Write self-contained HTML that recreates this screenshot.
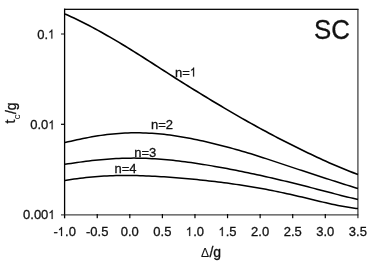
<!DOCTYPE html>
<html><head><meta charset="utf-8"><title>SC phase diagram</title><style>
html,body{margin:0;padding:0;background:#fff;}
svg{display:block;will-change:transform;opacity:0.999;}
text{font-family:"Liberation Sans",sans-serif;fill:#111;stroke:#111;stroke-width:0.3px;}
</style></head><body>
<svg width="374" height="265" viewBox="0 0 374 265">
<rect width="374" height="265" fill="#fff"/>
<!-- frame -->
<rect x="64" y="8.7" width="294.5" height="1.25" fill="#000"/>
<rect x="63.95" y="8.7" width="1.3" height="209.6" fill="#000"/>
<rect x="357.4" y="9" width="1.05" height="209.2" fill="#1a1a1a"/>
<rect x="61" y="214.4" width="297.4" height="1.0" fill="#1a1a1a"/>
<rect x="96.63" y="214" width="1.2" height="4.2" fill="#000"/><rect x="129.21" y="214" width="1.2" height="4.2" fill="#000"/><rect x="161.79" y="214" width="1.2" height="4.2" fill="#000"/><rect x="194.37" y="214" width="1.2" height="4.2" fill="#000"/><rect x="226.95" y="214" width="1.2" height="4.2" fill="#000"/><rect x="259.53" y="214" width="1.2" height="4.2" fill="#000"/><rect x="292.11" y="214" width="1.2" height="4.2" fill="#000"/><rect x="324.69" y="214" width="1.2" height="4.2" fill="#000"/><rect x="61" y="33.50" width="3.5" height="1" fill="#111"/><rect x="61" y="123.70" width="3.5" height="1.2" fill="#000"/>
<g font-size="13px"><text x="53.44" y="236.00">-</text><path transform="translate(57.78,236.00) scale(0.00635,-0.00635)" d="M673.0 0.0L514.6 0.0L514.6 1112.6Q457.4 1052.5 364.6 992.3Q271.7 932.2 197.8 902.1L197.8 1070.9Q330.7 1139.8 430.1 1237.7Q529.6 1335.7 570.9 1427.8L673.0 1427.8Z" fill="#111" stroke="#111" stroke-width="30"/><text x="65.02" y="236.00">.0</text><text x="86.02" y="236.00">-0.5</text><text x="120.77" y="236.00">0.0</text><text x="153.35" y="236.00">0.5</text><path transform="translate(185.93,236.00) scale(0.00635,-0.00635)" d="M673.0 0.0L514.6 0.0L514.6 1112.6Q457.4 1052.5 364.6 992.3Q271.7 932.2 197.8 902.1L197.8 1070.9Q330.7 1139.8 430.1 1237.7Q529.6 1335.7 570.9 1427.8L673.0 1427.8Z" fill="#111" stroke="#111" stroke-width="30"/><text x="193.16" y="236.00">.0</text><path transform="translate(218.51,236.00) scale(0.00635,-0.00635)" d="M673.0 0.0L514.6 0.0L514.6 1112.6Q457.4 1052.5 364.6 992.3Q271.7 932.2 197.8 902.1L197.8 1070.9Q330.7 1139.8 430.1 1237.7Q529.6 1335.7 570.9 1427.8L673.0 1427.8Z" fill="#111" stroke="#111" stroke-width="30"/><text x="225.74" y="236.00">.5</text><text x="251.09" y="236.00">2.0</text><text x="283.67" y="236.00">2.5</text><text x="316.25" y="236.00">3.0</text><text x="348.83" y="236.00">3.5</text><text x="37.22" y="38.60">0.</text><path transform="translate(48.07,38.60) scale(0.00635,-0.00635)" d="M673.0 0.0L514.6 0.0L514.6 1112.6Q457.4 1052.5 364.6 992.3Q271.7 932.2 197.8 902.1L197.8 1070.9Q330.7 1139.8 430.1 1237.7Q529.6 1335.7 570.9 1427.8L673.0 1427.8Z" fill="#111" stroke="#111" stroke-width="30"/><text x="30.29" y="129.30">0.0</text><path transform="translate(48.37,129.30) scale(0.00635,-0.00635)" d="M673.0 0.0L514.6 0.0L514.6 1112.6Q457.4 1052.5 364.6 992.3Q271.7 932.2 197.8 902.1L197.8 1070.9Q330.7 1139.8 430.1 1237.7Q529.6 1335.7 570.9 1427.8L673.0 1427.8Z" fill="#111" stroke="#111" stroke-width="30"/><text x="23.05" y="219.00">0.00</text><path transform="translate(48.37,219.00) scale(0.00635,-0.00635)" d="M673.0 0.0L514.6 0.0L514.6 1112.6Q457.4 1052.5 364.6 992.3Q271.7 932.2 197.8 902.1L197.8 1070.9Q330.7 1139.8 430.1 1237.7Q529.6 1335.7 570.9 1427.8L673.0 1427.8Z" fill="#111" stroke="#111" stroke-width="30"/></g>
<g fill="none" stroke="#000" stroke-linejoin="round" stroke-linecap="butt">
<path d="M65.0,14.04 L68.0,15.35 L71.0,16.70 L74.0,18.09 L77.0,19.51 L80.0,20.97 L83.0,22.46 L86.0,23.99 L89.0,25.54 L92.0,27.12 L95.0,28.73 L98.0,30.37 L101.0,32.03 L104.0,33.71 L107.0,35.41 L110.0,37.13 L113.0,38.87 L116.0,40.63 L119.0,42.40 L122.0,44.21 L125.0,46.05 L128.0,47.91 L131.0,49.77 L134.0,51.64 L137.0,53.53 L140.0,55.42 L143.0,57.32 L146.0,59.22 L149.0,61.14 L152.0,63.05 L155.0,64.97 L158.0,66.90 L161.0,68.82 L164.0,70.75 L167.0,72.68 L170.0,74.61 L173.0,76.54 L176.0,78.46 L179.0,80.39 L182.0,82.27 L185.0,84.13 L188.0,85.99 L191.0,87.85 L194.0,89.69 L197.0,91.54 L200.0,93.38 L203.0,95.21 L206.0,97.04 L209.0,98.86 L212.0,100.68 L215.0,102.48 L218.0,104.28 L221.0,106.07 L224.0,107.86 L227.0,109.63 L230.0,111.40 L233.0,113.15 L236.0,114.90 L239.0,116.63 L242.0,118.35 L245.0,120.04 L248.0,121.73 L251.0,123.40 L254.0,125.06 L257.0,126.71 L260.0,128.35 L263.0,129.98 L266.0,131.60 L269.0,133.20 L272.0,134.79 L275.0,136.36 L278.0,137.93 L281.0,139.48 L284.0,141.01 L287.0,142.53 L290.0,144.04 L293.0,145.53 L296.0,147.01 L299.0,148.47 L302.0,149.95 L305.0,151.43 L308.0,152.89 L311.0,154.33 L314.0,155.76 L317.0,157.17 L320.0,158.57 L323.0,159.94 L326.0,161.30 L329.0,162.64 L332.0,163.96 L335.0,165.26 L338.0,166.54 L341.0,167.80 L344.0,169.04 L347.0,170.26 L350.0,171.46 L353.0,172.63 L356.0,173.78 L358.0,174.54" stroke-width="1.65"/>
<path d="M65.0,142.56 L68.0,141.85 L71.0,141.16 L74.0,140.48 L77.0,139.81 L80.0,139.17 L83.0,138.55 L86.0,137.95 L89.0,137.38 L92.0,136.83 L95.0,136.32 L98.0,135.84 L101.0,135.38 L104.0,134.97 L107.0,134.59 L110.0,134.24 L113.0,133.93 L116.0,133.65 L119.0,133.42 L122.0,133.22 L125.0,133.06 L128.0,132.94 L131.0,132.85 L134.0,132.80 L137.0,132.79 L140.0,132.82 L143.0,132.89 L146.0,132.99 L149.0,133.13 L152.0,133.31 L155.0,133.52 L158.0,133.77 L161.0,134.05 L164.0,134.36 L167.0,134.71 L170.0,135.09 L173.0,135.50 L176.0,135.94 L179.0,136.41 L182.0,136.91 L185.0,137.43 L188.0,137.99 L191.0,138.57 L194.0,139.17 L197.0,139.80 L200.0,140.45 L203.0,141.10 L206.0,141.77 L209.0,142.46 L212.0,143.17 L215.0,143.90 L218.0,144.65 L221.0,145.42 L224.0,146.20 L227.0,146.99 L230.0,147.80 L233.0,148.63 L236.0,149.46 L239.0,150.31 L242.0,151.17 L245.0,152.04 L248.0,152.92 L251.0,153.83 L254.0,154.78 L257.0,155.74 L260.0,156.70 L263.0,157.67 L266.0,158.65 L269.0,159.64 L272.0,160.63 L275.0,161.62 L278.0,162.62 L281.0,163.62 L284.0,164.62 L287.0,165.63 L290.0,166.64 L293.0,167.62 L296.0,168.60 L299.0,169.59 L302.0,170.57 L305.0,171.55 L308.0,172.54 L311.0,173.52 L314.0,174.50 L317.0,175.48 L320.0,176.46 L323.0,177.44 L326.0,178.42 L329.0,179.39 L332.0,180.36 L335.0,181.32 L338.0,182.28 L341.0,183.24 L344.0,184.18 L347.0,185.13 L350.0,186.06 L353.0,186.99 L356.0,187.91 L358.0,188.52" stroke-width="1.5"/>
<path d="M65.0,164.24 L68.0,163.82 L71.0,163.39 L74.0,162.96 L77.0,162.54 L80.0,162.13 L83.0,161.72 L86.0,161.34 L89.0,160.96 L92.0,160.61 L95.0,160.27 L98.0,159.95 L101.0,159.66 L104.0,159.39 L107.0,159.14 L110.0,158.92 L113.0,158.73 L116.0,158.56 L119.0,158.42 L122.0,158.31 L125.0,158.22 L128.0,158.16 L131.0,158.13 L134.0,158.12 L137.0,158.15 L140.0,158.20 L143.0,158.27 L146.0,158.37 L149.0,158.50 L152.0,158.65 L155.0,158.83 L158.0,159.03 L161.0,159.25 L164.0,159.50 L167.0,159.76 L170.0,160.05 L173.0,160.36 L176.0,160.69 L179.0,161.03 L182.0,161.40 L185.0,161.78 L188.0,162.18 L191.0,162.59 L194.0,163.02 L197.0,163.46 L200.0,163.92 L203.0,164.39 L206.0,164.88 L209.0,165.37 L212.0,165.88 L215.0,166.40 L218.0,166.93 L221.0,167.48 L224.0,168.03 L227.0,168.59 L230.0,169.16 L233.0,169.74 L236.0,170.33 L239.0,170.93 L242.0,171.53 L245.0,172.15 L248.0,172.77 L251.0,173.40 L254.0,174.04 L257.0,174.69 L260.0,175.35 L263.0,176.01 L266.0,176.68 L269.0,177.36 L272.0,178.05 L275.0,178.74 L278.0,179.44 L281.0,180.15 L284.0,180.87 L287.0,181.59 L290.0,182.32 L293.0,183.06 L296.0,183.80 L299.0,184.55 L302.0,185.31 L305.0,186.07 L308.0,186.84 L311.0,187.61 L314.0,188.39 L317.0,189.17 L320.0,189.95 L323.0,190.74 L326.0,191.52 L329.0,192.30 L332.0,193.08 L335.0,193.86 L338.0,194.63 L341.0,195.40 L344.0,196.15 L347.0,196.90 L350.0,197.63 L353.0,198.34 L356.0,199.04 L358.0,199.49" stroke-width="1.5"/>
<path d="M65.0,180.55 L68.0,180.04 L71.0,179.56 L74.0,179.10 L77.0,178.68 L80.0,178.28 L83.0,177.91 L86.0,177.57 L89.0,177.25 L92.0,176.96 L95.0,176.70 L98.0,176.47 L101.0,176.26 L104.0,176.08 L107.0,175.93 L110.0,175.80 L113.0,175.69 L116.0,175.61 L119.0,175.55 L122.0,175.51 L125.0,175.49 L128.0,175.50 L131.0,175.52 L134.0,175.56 L137.0,175.62 L140.0,175.69 L143.0,175.79 L146.0,175.89 L149.0,176.02 L152.0,176.16 L155.0,176.31 L158.0,176.47 L161.0,176.65 L164.0,176.84 L167.0,177.04 L170.0,177.25 L173.0,177.47 L176.0,177.70 L179.0,177.95 L182.0,178.20 L185.0,178.46 L188.0,178.73 L191.0,179.01 L194.0,179.30 L197.0,179.60 L200.0,179.91 L203.0,180.23 L206.0,180.55 L209.0,180.89 L212.0,181.24 L215.0,181.59 L218.0,181.96 L221.0,182.33 L224.0,182.72 L227.0,183.11 L230.0,183.52 L233.0,183.94 L236.0,184.37 L239.0,184.81 L242.0,185.26 L245.0,185.73 L248.0,186.21 L251.0,186.70 L254.0,187.20 L257.0,187.72 L260.0,188.26 L263.0,188.80 L266.0,189.36 L269.0,189.94 L272.0,190.53 L275.0,191.13 L278.0,191.75 L281.0,192.38 L284.0,193.02 L287.0,193.67 L290.0,194.34 L293.0,195.02 L296.0,195.70 L299.0,196.40 L302.0,197.10 L305.0,197.81 L308.0,198.53 L311.0,199.25 L314.0,199.97 L317.0,200.68 L320.0,201.40 L323.0,202.11 L326.0,202.80 L329.0,203.49 L332.0,204.16 L335.0,204.81 L338.0,205.43 L341.0,206.03 L344.0,206.59 L347.0,207.11 L350.0,207.59 L353.0,208.02 L356.0,208.40 L358.0,208.61" stroke-width="1.5"/>
</g>
<g font-size="13px">
<text x="175.00" y="76.60">n=</text><path transform="translate(189.83,76.60) scale(0.00635,-0.00635)" d="M673.0 0.0L514.6 0.0L514.6 1112.6Q457.4 1052.5 364.6 992.3Q271.7 932.2 197.8 902.1L197.8 1070.9Q330.7 1139.8 430.1 1237.7Q529.6 1335.7 570.9 1427.8L673.0 1427.8Z" fill="#111" stroke="#111" stroke-width="30"/>
<text x="151" y="129.4">n=2</text>
<text x="134.2" y="156.5">n=3</text>
<text x="114.5" y="173.4">n=4</text>
</g>
<text transform="translate(314.0,38.9) scale(0.94,1)" font-size="27.5px" stroke-width="0.1">SC</text>
<text x="201" y="256.7"><tspan font-size="12.1px" stroke-width="0.05">Δ</tspan><tspan font-size="14px" dx="0.4">/g</tspan></text>
<text transform="translate(15.4,123.4) rotate(-90)" font-size="14px">t<tspan font-size="9.6px" dy="4.4" dx="0.2" stroke-width="0.05">c</tspan><tspan dy="-3.8" dx="0.5">/g</tspan></text>
</svg>
</body></html>
